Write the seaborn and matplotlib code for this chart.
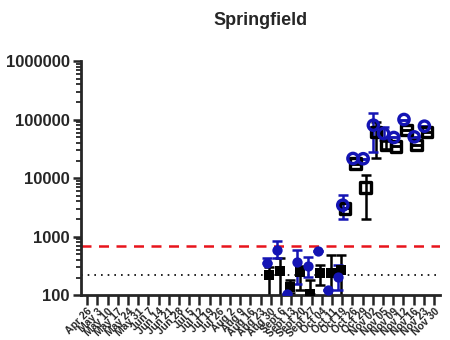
import numpy as np
import pandas as pd
import matplotlib
matplotlib.use("Agg")
import matplotlib.pyplot as plt
import seaborn as sns
from matplotlib.ticker import LogLocator, NullFormatter, FixedLocator

# week labels on the x axis
weeks = ["Apr 26", "May 3", "May 10", "May 17", "May 24", "May 31", "Jun 7",
         "Jun 14", "Jun 21", "Jun 28", "Jul 5", "Jul 12", "Jul 19", "Jul 26",
         "Aug 2", "Aug 9", "Aug 16", "Aug 23", "Aug 30", "Sept 6", "Sept 13",
         "Sept 20", "Sept 27", "Oct 04", "Oct 11", "Oct 19", "Oct 26", "Oct 29",
         "Nov 02", "Nov 05", "Nov 09", "Nov 12", "Nov 16", "Nov 23", "Nov 30"]

# filled symbols (early samples)
early_weeks = ["Aug 30", "Sept 6", "Sept 13", "Sept 20", "Sept 27", "Oct 04", "Oct 11", "Oct 19"]
blue_early = [352, 588, 103, 362, 317, 565, 122, 203]
blue_early_lo = [352, 429, 103, 152, 205, 565, 122, 122]
blue_early_hi = [430, 848, 103, 588, 452, 565, 122, 326]
black_early = [224, 257, 139, 247, 103, 238, 235, 267]
black_early_lo = [90, 90, 110, 120, 103, 148, 90, 90]
black_early_hi = [300, 424, 180, 310, 180, 326, 483, 483]

# open symbols (later samples)
late_weeks = ["Oct 19", "Oct 26", "Oct 29", "Nov 02", "Nov 05", "Nov 09", "Nov 12", "Nov 16", "Nov 23"]
blue_late = [3450, 21700, 21500, 80500, 58000, 49600, 100700, 50800, 77400]
blue_late_lo = [1970, 21700, 21500, 28100, 44600, 49600, 100700, 50800, 77400]
blue_late_hi = [5100, 21700, 21500, 130600, 75300, 49600, 100700, 50800, 77400]
black_late = [3030, 17800, 6930, 61800, 36600, 34800, 66000, 36600, 61800]
black_late_lo = [3030, 17800, 1970, 21700, 31000, 34800, 66000, 36600, 61800]
black_late_hi = [3030, 17800, 11200, 92000, 43000, 34800, 66000, 36600, 61800]

upper_limit = 690
lower_limit = 220

sns.set_style("ticks")
plt.rcParams['font.family'] = ['Liberation Sans', 'DejaVu Sans']
plt.rcParams['font.weight'] = 'bold'

fig = plt.figure(figsize=(4.5, 3.4), dpi=100)
ax = fig.add_axes([0.18, 0.132, 0.798, 0.688])

blue = "#1414b4"

series = [
    (early_weeks, black_early, black_early_lo, black_early_hi, "black", "s", True, -0.14),
    (early_weeks, blue_early, blue_early_lo, blue_early_hi, blue, "o", True, -0.38),
    (late_weeks, black_late, black_late_lo, black_late_hi, "black", "s", False, 0.3),
    (late_weeks, blue_late, blue_late_lo, blue_late_hi, blue, "o", False, 0.06),
]

for wk, val, lo, hi, col, mk, filled, off in series:
    df = pd.DataFrame({"x": [weeks.index(w) + off for w in wk], "y": val})
    yerr = [np.array(val) - np.array(lo), np.array(hi) - np.array(val)]
    ax.errorbar(df["x"], df["y"], yerr=yerr, fmt="none", ecolor=col,
                elinewidth=1.8, capsize=3.5, capthick=1.8, zorder=2)
    sns.scatterplot(data=df, x="x", y="y", ax=ax, marker=mk, s=55,
                    color=col if filled else "none", edgecolor=col,
                    linewidth=0 if filled else 2.4, zorder=3, legend=False)

ax.axhline(upper_limit, color="#e8141c", ls=(0, (4, 3)), lw=1.8, zorder=1)
ax.axhline(lower_limit, color="black", ls=(0, (1, 3)), lw=1.2, zorder=1)

ax.set_yscale("log")
ax.set_ylim(100, 1000000)
ax.set_xlim(-0.6, 34.6)
ax.yaxis.set_major_locator(FixedLocator([100, 1000, 10000, 100000, 1000000]))
ax.yaxis.set_major_formatter(plt.FuncFormatter(lambda v, p: f"{int(v)}"))
ax.yaxis.set_minor_locator(LogLocator(base=10, subs=np.arange(2, 10)))
ax.yaxis.set_minor_formatter(NullFormatter())

ax.set_xticks(range(len(weeks)))
ax.set_xticklabels(weeks, rotation=45, ha="right", rotation_mode="anchor",
                   fontsize=7.5, fontweight="bold")
for lab in ax.get_yticklabels():
    lab.set_fontsize(12)
    lab.set_fontweight("bold")

ax.tick_params(axis="y", which="major", length=6, width=1.8, pad=2)
ax.tick_params(axis="y", which="minor", length=3.5, width=1.3)
ax.tick_params(axis="x", length=7, width=1.8, pad=1)
for s in ["left", "bottom"]:
    ax.spines[s].set_linewidth(2)
sns.despine(ax=ax)

ax.set_xlabel("")
ax.set_ylabel("")
ax.set_title("Springfield", fontsize=13, fontweight="bold", pad=26)

fig.savefig("out.png", dpi=100)
